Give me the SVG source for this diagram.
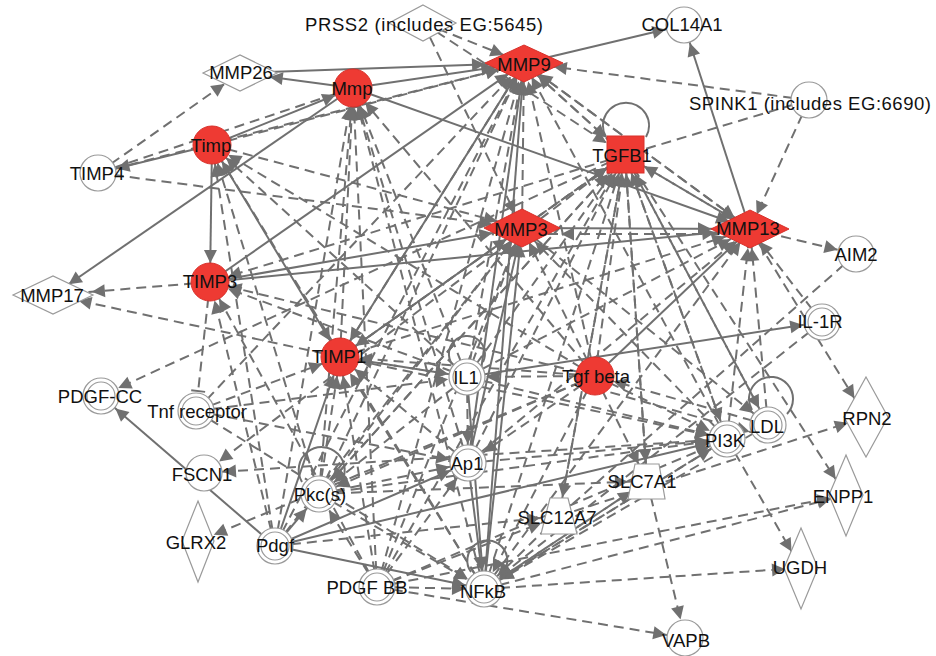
<svg xmlns="http://www.w3.org/2000/svg" width="936" height="656" viewBox="0 0 936 656">
<style>
.s{stroke:#707070;stroke-width:2;fill:none}
.d{stroke:#707070;stroke-width:2;stroke-dasharray:10 6;fill:none}
.ah{fill:#707070;stroke:none}
.w{fill:#fff;stroke:#9a9a9a;stroke-width:1.2}
.r{fill:#ee3a33;stroke:#d8302a;stroke-width:1}
.t{font-family:"Liberation Sans",Arial,sans-serif;font-size:18.5px;fill:#111;text-anchor:middle}
</style>
<defs>
<marker id="a16" markerUnits="userSpaceOnUse" viewBox="-60 -8 60 16" markerWidth="60" markerHeight="16" refX="0" refY="0" orient="auto"><path class="ah" d="M-16,0 L-29,-6.5 L-29,6.5 Z"/></marker>
<marker id="a19" markerUnits="userSpaceOnUse" viewBox="-60 -8 60 16" markerWidth="60" markerHeight="16" refX="0" refY="0" orient="auto"><path class="ah" d="M-19,0 L-32,-6.5 L-32,6.5 Z"/></marker>
<marker id="a22" markerUnits="userSpaceOnUse" viewBox="-60 -8 60 16" markerWidth="60" markerHeight="16" refX="0" refY="0" orient="auto"><path class="ah" d="M-22,0 L-35,-6.5 L-35,6.5 Z"/></marker>
<marker id="a26" markerUnits="userSpaceOnUse" viewBox="-60 -8 60 16" markerWidth="60" markerHeight="16" refX="0" refY="0" orient="auto"><path class="ah" d="M-26,0 L-39,-6.5 L-39,6.5 Z"/></marker>
<marker id="a30" markerUnits="userSpaceOnUse" viewBox="-60 -8 60 16" markerWidth="60" markerHeight="16" refX="0" refY="0" orient="auto"><path class="ah" d="M-30,0 L-43,-6.5 L-43,6.5 Z"/></marker>
<marker id="a35" markerUnits="userSpaceOnUse" viewBox="-60 -8 60 16" markerWidth="60" markerHeight="16" refX="0" refY="0" orient="auto"><path class="ah" d="M-35,0 L-48,-6.5 L-48,6.5 Z"/></marker>
<marker id="a39" markerUnits="userSpaceOnUse" viewBox="-60 -8 60 16" markerWidth="60" markerHeight="16" refX="0" refY="0" orient="auto"><path class="ah" d="M-39,0 L-52,-6.5 L-52,6.5 Z"/></marker>
<marker id="bar" markerUnits="userSpaceOnUse" viewBox="-60 -8 60 16" markerWidth="60" markerHeight="16" refX="0" refY="0" orient="auto"><path d="M-20,-7 L-20,7" stroke="#707070" stroke-width="2"/></marker>
</defs>
<rect width="936" height="656" fill="#fff"/>
<g id="connectors">
<line class="s" x1="524" y1="63" x2="684" y2="25" marker-end="url(#a19)"/>
<line class="s" x1="750" y1="229" x2="684" y2="25" marker-end="url(#a19)"/>
<line class="s" x1="240" y1="73" x2="524" y2="63" marker-end="url(#a39)"/>
<line class="s" x1="353" y1="88" x2="240" y2="73" marker-end="url(#a30)"/>
<line class="s" x1="353" y1="88" x2="524" y2="63" marker-end="url(#a30)"/>
<line class="s" x1="212" y1="145" x2="98" y2="173" marker-end="url(#a19)"/>
<line class="s" x1="353" y1="88" x2="53" y2="295" marker-end="url(#a19)"/>
<line class="s" x1="212" y1="145" x2="210" y2="282" marker-end="url(#a19)"/>
<line class="s" x1="212" y1="145" x2="340" y2="357" marker-end="url(#a19)"/>
<line class="s" x1="212" y1="145" x2="353" y2="88" marker-end="url(#a19)"/>
<line class="s" x1="210" y1="282" x2="522" y2="228" marker-end="url(#a30)"/>
<line class="s" x1="210" y1="282" x2="750" y2="229" marker-end="url(#a35)"/>
<line class="s" x1="210" y1="282" x2="524" y2="63" marker-end="url(#a19)"/>
<line class="s" x1="353" y1="88" x2="750" y2="229" marker-end="url(#a22)"/>
<line class="s" x1="340" y1="357" x2="524" y2="63" marker-end="url(#a16)"/>
<line class="s" x1="340" y1="357" x2="522" y2="228" marker-end="url(#a19)"/>
<line class="s" x1="467" y1="377" x2="822" y2="322" marker-end="url(#a19)"/>
<line class="s" x1="468" y1="463" x2="524" y2="63" marker-end="url(#a19)"/>
<line class="s" x1="484" y1="589" x2="524" y2="63" marker-end="url(#a19)"/>
<line class="s" x1="468" y1="463" x2="522" y2="228" marker-end="url(#a16)"/>
<line class="s" x1="484" y1="589" x2="522" y2="228" marker-end="url(#a16)"/>
<line class="s" x1="522" y1="228" x2="750" y2="229" marker-end="url(#a39)"/>
<line class="s" x1="595" y1="376" x2="750" y2="229" marker-end="url(#a19)"/>
<line class="s" x1="467" y1="377" x2="484" y2="589" marker-end="url(#a19)"/>
<line class="s" x1="468" y1="463" x2="484" y2="589" marker-end="url(#a19)"/>
<line class="s" x1="275" y1="546" x2="101" y2="396" marker-end="url(#a19)"/>
<line class="s" x1="275" y1="546" x2="319" y2="494" marker-end="url(#a19)"/>
<line class="s" x1="275" y1="546" x2="468" y2="463" marker-end="url(#a19)"/>
<line class="s" x1="275" y1="546" x2="727" y2="439" marker-end="url(#a19)"/>
<line class="s" x1="275" y1="546" x2="484" y2="589" marker-end="url(#a19)"/>
<line class="s" x1="275" y1="546" x2="340" y2="357" marker-end="url(#a19)"/>
<line class="d" x1="98" y1="173" x2="240" y2="73" marker-end="url(#a19)"/>
<line class="d" x1="98" y1="173" x2="353" y2="88"/>
<line class="d" x1="98" y1="173" x2="524" y2="63" marker-end="url(#a26)"/>
<line class="d" x1="98" y1="173" x2="522" y2="228" marker-end="url(#a30)"/>
<line class="d" x1="423" y1="23" x2="524" y2="63" marker-end="url(#a22)"/>
<line class="d" x1="423" y1="23" x2="522" y2="228" marker-end="url(#a16)"/>
<line class="d" x1="423" y1="23" x2="625" y2="155" marker-end="url(#a22)"/>
<line class="d" x1="809" y1="100" x2="524" y2="63" marker-end="url(#a30)"/>
<line class="d" x1="809" y1="100" x2="625" y2="155"/>
<line class="d" x1="809" y1="100" x2="750" y2="229" marker-end="url(#a16)"/>
<line class="d" x1="750" y1="229" x2="856" y2="254" marker-end="url(#a19)"/>
<line class="d" x1="212" y1="145" x2="524" y2="63" marker-end="url(#a26)"/>
<line class="d" x1="212" y1="145" x2="522" y2="228" marker-end="url(#a26)"/>
<line class="d" x1="210" y1="282" x2="53" y2="295" marker-end="url(#a39)"/>
<line class="d" x1="340" y1="357" x2="53" y2="295" marker-end="url(#a26)"/>
<line class="d" x1="625" y1="155" x2="210" y2="282" marker-end="url(#a19)"/>
<line class="d" x1="210" y1="282" x2="196" y2="411" marker-end="url(#bar)"/>
<line class="d" x1="340" y1="357" x2="750" y2="229" marker-end="url(#a26)"/>
<line class="d" x1="524" y1="63" x2="625" y2="155" marker-end="url(#a26)"/>
<line class="d" x1="524" y1="63" x2="750" y2="229" marker-end="url(#a19)"/>
<line class="d" x1="522" y1="228" x2="524" y2="63" marker-end="url(#a19)"/>
<line class="d" x1="625" y1="155" x2="524" y2="63" marker-end="url(#a19)"/>
<line class="d" x1="750" y1="229" x2="524" y2="63" marker-end="url(#a19)"/>
<line class="d" x1="467" y1="377" x2="524" y2="63" marker-end="url(#a19)"/>
<line class="d" x1="595" y1="376" x2="524" y2="63" marker-end="url(#a19)"/>
<line class="d" x1="319" y1="494" x2="524" y2="63" marker-end="url(#a16)"/>
<line class="d" x1="377" y1="587" x2="524" y2="63" marker-end="url(#a19)"/>
<line class="d" x1="275" y1="546" x2="524" y2="63" marker-end="url(#a16)"/>
<line class="d" x1="727" y1="439" x2="524" y2="63" marker-end="url(#a16)"/>
<line class="d" x1="196" y1="411" x2="524" y2="63" marker-end="url(#a19)"/>
<line class="d" x1="467" y1="377" x2="353" y2="88" marker-end="url(#a19)"/>
<line class="d" x1="468" y1="463" x2="353" y2="88" marker-end="url(#a19)"/>
<line class="d" x1="484" y1="589" x2="353" y2="88" marker-end="url(#a19)"/>
<line class="d" x1="595" y1="376" x2="353" y2="88" marker-end="url(#a19)"/>
<line class="d" x1="377" y1="587" x2="353" y2="88" marker-end="url(#a19)"/>
<line class="d" x1="275" y1="546" x2="353" y2="88" marker-end="url(#a19)"/>
<line class="d" x1="319" y1="494" x2="353" y2="88" marker-end="url(#a19)"/>
<line class="d" x1="340" y1="357" x2="353" y2="88" marker-end="url(#a19)"/>
<line class="d" x1="275" y1="546" x2="212" y2="145" marker-end="url(#a19)"/>
<line class="d" x1="319" y1="494" x2="212" y2="145" marker-end="url(#a19)"/>
<line class="d" x1="467" y1="377" x2="212" y2="145" marker-end="url(#a19)"/>
<line class="d" x1="595" y1="376" x2="212" y2="145" marker-end="url(#a19)"/>
<line class="d" x1="484" y1="589" x2="212" y2="145" marker-end="url(#a19)"/>
<line class="d" x1="595" y1="376" x2="210" y2="282" marker-end="url(#a19)"/>
<line class="d" x1="275" y1="546" x2="210" y2="282" marker-end="url(#a19)"/>
<line class="d" x1="377" y1="587" x2="210" y2="282" marker-end="url(#a19)"/>
<line class="d" x1="467" y1="377" x2="210" y2="282" marker-end="url(#a19)"/>
<line class="d" x1="625" y1="155" x2="340" y2="357" marker-end="url(#a19)"/>
<line class="d" x1="595" y1="376" x2="340" y2="357" marker-end="url(#a19)"/>
<line class="d" x1="467" y1="377" x2="340" y2="357" marker-end="url(#a19)"/>
<line class="d" x1="468" y1="463" x2="340" y2="357" marker-end="url(#a19)"/>
<line class="d" x1="484" y1="589" x2="340" y2="357" marker-end="url(#a19)"/>
<line class="d" x1="319" y1="494" x2="340" y2="357" marker-end="url(#a19)"/>
<line class="d" x1="377" y1="587" x2="340" y2="357" marker-end="url(#a19)"/>
<line class="d" x1="196" y1="411" x2="340" y2="357" marker-end="url(#a19)"/>
<line class="d" x1="524" y1="63" x2="340" y2="357" marker-end="url(#a19)"/>
<line class="d" x1="467" y1="377" x2="625" y2="155" marker-end="url(#a22)"/>
<line class="d" x1="484" y1="589" x2="625" y2="155" marker-end="url(#a19)"/>
<line class="d" x1="468" y1="463" x2="625" y2="155" marker-end="url(#a22)"/>
<line class="d" x1="595" y1="376" x2="625" y2="155" marker-end="url(#a19)"/>
<line class="d" x1="727" y1="439" x2="625" y2="155" marker-end="url(#a19)"/>
<line class="d" x1="768" y1="425" x2="625" y2="155" marker-end="url(#a22)"/>
<line class="d" x1="647" y1="481" x2="625" y2="155" marker-end="url(#a19)"/>
<line class="d" x1="559" y1="516" x2="625" y2="155" marker-end="url(#a19)"/>
<line class="d" x1="319" y1="494" x2="625" y2="155" marker-end="url(#a26)"/>
<line class="d" x1="340" y1="357" x2="625" y2="155" marker-end="url(#a22)"/>
<line class="d" x1="522" y1="228" x2="625" y2="155" marker-end="url(#a22)"/>
<line class="d" x1="750" y1="229" x2="625" y2="155" marker-end="url(#a22)"/>
<line class="d" x1="377" y1="587" x2="625" y2="155" marker-end="url(#a22)"/>
<line class="d" x1="467" y1="377" x2="522" y2="228" marker-end="url(#a16)"/>
<line class="d" x1="595" y1="376" x2="522" y2="228" marker-end="url(#a16)"/>
<line class="d" x1="750" y1="234" x2="522" y2="234" marker-end="url(#a39)"/>
<line class="d" x1="727" y1="439" x2="522" y2="228" marker-end="url(#a19)"/>
<line class="d" x1="319" y1="494" x2="522" y2="228" marker-end="url(#a16)"/>
<line class="d" x1="377" y1="587" x2="522" y2="228" marker-end="url(#a16)"/>
<line class="d" x1="275" y1="546" x2="522" y2="228" marker-end="url(#a16)"/>
<line class="d" x1="625" y1="155" x2="750" y2="229" marker-end="url(#a19)"/>
<line class="d" x1="467" y1="377" x2="750" y2="229" marker-end="url(#a22)"/>
<line class="d" x1="468" y1="463" x2="750" y2="229" marker-end="url(#a19)"/>
<line class="d" x1="484" y1="589" x2="750" y2="229" marker-end="url(#a16)"/>
<line class="d" x1="727" y1="439" x2="750" y2="229" marker-end="url(#a19)"/>
<line class="d" x1="822" y1="322" x2="750" y2="229" marker-end="url(#a16)"/>
<line class="d" x1="768" y1="425" x2="750" y2="229" marker-end="url(#a19)"/>
<line class="d" x1="750" y1="229" x2="866" y2="417" marker-end="url(#a22)"/>
<line class="d" x1="625" y1="155" x2="846" y2="495" marker-end="url(#a19)"/>
<line class="d" x1="625" y1="155" x2="647" y2="481" marker-end="url(#a19)"/>
<line class="d" x1="625" y1="155" x2="559" y2="516" marker-end="url(#a19)"/>
<line class="d" x1="625" y1="155" x2="204" y2="473" marker-end="url(#a19)"/>
<line class="d" x1="625" y1="155" x2="101" y2="396" marker-end="url(#a19)"/>
<line class="d" x1="625" y1="155" x2="768" y2="425" marker-end="url(#a19)"/>
<line class="d" x1="625" y1="155" x2="727" y2="439" marker-end="url(#a19)"/>
<line class="d" x1="625" y1="155" x2="319" y2="494" marker-end="url(#a19)"/>
<line class="d" x1="856" y1="254" x2="559" y2="516"/>
<line class="d" x1="822" y1="322" x2="484" y2="589" marker-end="url(#a19)"/>
<line class="d" x1="595" y1="376" x2="484" y2="589" marker-end="url(#a19)"/>
<line class="d" x1="377" y1="587" x2="484" y2="589" marker-end="url(#a19)"/>
<line class="d" x1="319" y1="494" x2="484" y2="589" marker-end="url(#a19)"/>
<line class="d" x1="727" y1="439" x2="484" y2="589" marker-end="url(#a19)"/>
<line class="d" x1="768" y1="425" x2="484" y2="589" marker-end="url(#a19)"/>
<line class="d" x1="647" y1="481" x2="484" y2="589" marker-end="url(#a19)"/>
<line class="d" x1="559" y1="516" x2="484" y2="589" marker-end="url(#a19)"/>
<line class="d" x1="196" y1="411" x2="484" y2="589" marker-end="url(#a19)"/>
<line class="d" x1="484" y1="589" x2="846" y2="495" marker-end="url(#a16)"/>
<line class="d" x1="377" y1="587" x2="846" y2="495" marker-end="url(#a16)"/>
<line class="d" x1="484" y1="589" x2="801" y2="568" marker-end="url(#a16)"/>
<line class="d" x1="377" y1="587" x2="685" y2="638" marker-end="url(#a19)"/>
<line class="d" x1="647" y1="481" x2="685" y2="638" marker-end="url(#a19)"/>
<line class="d" x1="727" y1="439" x2="801" y2="568" marker-end="url(#a19)"/>
<line class="d" x1="559" y1="516" x2="866" y2="417" marker-end="url(#a19)"/>
<line class="d" x1="595" y1="376" x2="199" y2="541" marker-end="url(#a16)"/>
<line class="d" x1="727" y1="439" x2="204" y2="473" marker-end="url(#a19)"/>
<line class="d" x1="377" y1="587" x2="727" y2="439" marker-end="url(#a19)"/>
<line class="d" x1="377" y1="587" x2="468" y2="463" marker-end="url(#a19)"/>
<line class="d" x1="377" y1="587" x2="319" y2="494" marker-end="url(#a19)"/>
<line class="d" x1="467" y1="377" x2="468" y2="463" marker-end="url(#a19)"/>
<line class="d" x1="595" y1="376" x2="468" y2="463" marker-end="url(#a19)"/>
<line class="d" x1="319" y1="494" x2="468" y2="463" marker-end="url(#a19)"/>
<line class="d" x1="595" y1="376" x2="727" y2="439" marker-end="url(#a19)"/>
<line class="d" x1="467" y1="377" x2="727" y2="439" marker-end="url(#a19)"/>
<line class="d" x1="340" y1="357" x2="727" y2="439" marker-end="url(#a19)"/>
<line class="d" x1="468" y1="463" x2="727" y2="439" marker-end="url(#a19)"/>
<line class="d" x1="319" y1="494" x2="727" y2="439" marker-end="url(#a19)"/>
<line class="d" x1="484" y1="589" x2="727" y2="439" marker-end="url(#a19)"/>
<line class="d" x1="595" y1="376" x2="647" y2="481" marker-end="url(#a19)"/>
<line class="d" x1="319" y1="494" x2="647" y2="481" marker-end="url(#a19)"/>
<line class="d" x1="484" y1="589" x2="647" y2="481" marker-end="url(#a19)"/>
<line class="d" x1="377" y1="587" x2="559" y2="516" marker-end="url(#a19)"/>
<line class="d" x1="275" y1="546" x2="559" y2="516" marker-end="url(#a19)"/>
<line class="d" x1="467" y1="377" x2="319" y2="494" marker-end="url(#a19)"/>
<line class="d" x1="595" y1="376" x2="319" y2="494" marker-end="url(#a19)"/>
<line class="d" x1="196" y1="411" x2="467" y2="377" marker-end="url(#a19)"/>
<line class="d" x1="196" y1="411" x2="468" y2="463" marker-end="url(#a19)"/>
<line class="d" x1="768" y1="425" x2="595" y2="376" marker-end="url(#a19)"/>
<line class="d" x1="595" y1="376" x2="467" y2="377" marker-end="url(#a19)"/>
<line class="d" x1="340" y1="357" x2="467" y2="377" marker-end="url(#a19)"/>
<line class="d" x1="595" y1="388" x2="768" y2="437" marker-end="url(#a19)"/>
<line class="d" x1="522" y1="228" x2="768" y2="425" marker-end="url(#a19)"/>
<path class="s" d="M646,137 A23,23 0 1,0 606,137"/>
<path class="s" d="M752,410 A22,22 0 1,1 787,414"/>
<path class="s" d="M302,482 A23,23 0 1,1 340,484"/>
<path class="s" d="M471,572 A20,20 0 1,1 502,574"/>
<path class="s" d="M452,364 A18,18 0 1,1 483,362"/>
</g>
<g id="node-PRSS2"><polygon class="w" points="423,5 456,23 423,41 389,23"/><text class="t" x="424" y="31" textLength="238" lengthAdjust="spacing">PRSS2 (includes EG:5645)</text></g>
<g id="node-COL14A1"><circle class="w" cx="684" cy="25" r="18"/><text class="t" x="682" y="31">COL14A1</text></g>
<g id="node-MMP9"><polygon class="r" points="485,63 524,45 563,63 524,82"/><text class="t" x="524" y="71">MMP9</text></g>
<g id="node-SPINK1"><circle class="w" cx="809" cy="100" r="18"/><text class="t" x="810" y="110" textLength="242" lengthAdjust="spacing">SPINK1 (includes EG:6690)</text></g>
<g id="node-MMP26"><polygon class="w" points="203,73 240,55 277,73 240,91"/><text class="t" x="241" y="79">MMP26</text></g>
<g id="node-Mmp"><circle class="r" cx="353" cy="88" r="19"/><text class="t" x="352" y="95">Mmp</text></g>
<g id="node-Timp"><circle class="r" cx="212" cy="145" r="19"/><text class="t" x="211" y="152">Timp</text></g>
<g id="node-TIMP4"><circle class="w" cx="98" cy="173" r="18"/><text class="t" x="97" y="180">TIMP4</text></g>
<g id="node-TGFB1"><rect class="r" x="607" y="136" width="37" height="37"/><text class="t" x="622" y="162">TGFB1</text></g>
<g id="node-MMP3"><polygon class="r" points="484,228 522,209 560,228 522,247"/><text class="t" x="521" y="236">MMP3</text></g>
<g id="node-MMP13"><polygon class="r" points="711,229 750,210 789,229 750,248"/><text class="t" x="748" y="235">MMP13</text></g>
<g id="node-AIM2"><circle class="w" cx="856" cy="254" r="18"/><text class="t" x="856" y="261">AIM2</text></g>
<g id="node-TIMP3"><circle class="r" cx="210" cy="282" r="19"/><text class="t" x="210" y="288">TIMP3</text></g>
<g id="node-MMP17"><polygon class="w" points="13,295 53,276 93,295 53,314"/><text class="t" x="52" y="302">MMP17</text></g>
<g id="node-IL-1R"><circle class="w" cx="822" cy="322" r="18"/><circle class="w" cx="822" cy="322" r="14"/><text class="t" x="820" y="328">IL-1R</text></g>
<g id="node-TIMP1"><circle class="r" cx="340" cy="357" r="19"/><text class="t" x="339" y="363">TIMP1</text></g>
<g id="node-IL1"><circle class="w" cx="467" cy="377" r="18"/><circle class="w" cx="467" cy="377" r="14"/><text class="t" x="466" y="384">IL1</text></g>
<g id="node-Tgfbeta"><circle class="r" cx="595" cy="376" r="19"/><text class="t" x="596" y="383">Tgf beta</text></g>
<g id="node-PDGF-CC"><circle class="w" cx="101" cy="396" r="18"/><circle class="w" cx="101" cy="396" r="14"/><text class="t" x="100" y="403">PDGF-CC</text></g>
<g id="node-Tnfreceptor"><circle class="w" cx="196" cy="411" r="18"/><circle class="w" cx="196" cy="411" r="14"/><text class="t" x="197" y="418">Tnf receptor</text></g>
<g id="node-RPN2"><polygon class="w" points="866,377 888,417 866,457 844,417"/><text class="t" x="867" y="425">RPN2</text></g>
<g id="node-LDL"><circle class="w" cx="768" cy="425" r="18"/><circle class="w" cx="768" cy="425" r="14"/><text class="t" x="767" y="433">LDL</text></g>
<g id="node-PI3K"><circle class="w" cx="727" cy="439" r="18"/><circle class="w" cx="727" cy="439" r="14"/><text class="t" x="725" y="447">PI3K</text></g>
<g id="node-Ap1"><circle class="w" cx="468" cy="463" r="18"/><circle class="w" cx="468" cy="463" r="14"/><text class="t" x="467" y="470">Ap1</text></g>
<g id="node-FSCN1"><circle class="w" cx="204" cy="473" r="18"/><text class="t" x="202" y="481">FSCN1</text></g>
<g id="node-Pkcs"><circle class="w" cx="319" cy="494" r="18"/><circle class="w" cx="319" cy="494" r="14"/><text class="t" x="320" y="501">Pkc(s)</text></g>
<g id="node-SLC7A1"><polygon class="w" points="635,464 659,464 665,499 628,499"/><text class="t" x="642" y="488">SLC7A1</text></g>
<g id="node-SLC12A7"><polygon class="w" points="550,498 568,498 577,534 541,534"/><text class="t" x="557" y="524">SLC12A7</text></g>
<g id="node-ENPP1"><polygon class="w" points="846,455 863,495 846,536 829,495"/><text class="t" x="843" y="503">ENPP1</text></g>
<g id="node-GLRX2"><polygon class="w" points="198,501 214,541 198,582 182,541"/><text class="t" x="196" y="549">GLRX2</text></g>
<g id="node-Pdgf"><circle class="w" cx="275" cy="546" r="18"/><circle class="w" cx="275" cy="546" r="14"/><text class="t" x="275" y="552">Pdgf</text></g>
<g id="node-UGDH"><polygon class="w" points="801,528 818,568 801,609 784,568"/><text class="t" x="800" y="574">UGDH</text></g>
<g id="node-PDGFBB"><circle class="w" cx="377" cy="587" r="18"/><circle class="w" cx="377" cy="587" r="14"/><text class="t" x="367" y="594">PDGF BB</text></g>
<g id="node-NFkB"><circle class="w" cx="484" cy="589" r="18"/><circle class="w" cx="484" cy="589" r="14"/><text class="t" x="483" y="598">NFkB</text></g>
<g id="node-VAPB"><circle class="w" cx="685" cy="638" r="18"/><text class="t" x="686" y="647">VAPB</text></g>
</svg>
